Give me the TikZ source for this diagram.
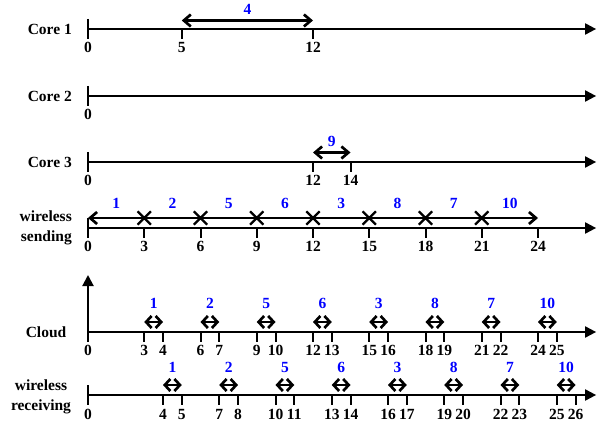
\documentclass[tikz,border=0pt]{standalone}
\usepackage{fontspec}
\setmainfont{Liberation Serif}
\usetikzlibrary{arrows.meta,shapes.misc}
\tikzset{
  axis/.style={line width=2pt,-{Triangle[length=11pt,width=11pt]}},
  tick/.style={line width=2pt},
  span/.style={line width=2.2pt,{Straight Barb[length=7pt,width=12pt,line width=2.7pt]}-{Straight Barb[length=7pt,width=12pt,line width=2.7pt]}},
  hop/.style={line width=2.4pt,{Straight Barb[length=5.5pt,width=12pt,line width=2.7pt]}-{Straight Barb[length=5.5pt,width=12pt,line width=2.7pt]}},
  num/.style={below=2.5pt,inner sep=0pt},
  job/.style={above=5pt,inner sep=0pt,text=blue},
  row/.style={align=right,anchor=east,inner sep=0pt},
  hit/.style={draw,cross out,line width=2.3pt,minimum size=11pt,inner sep=0pt},
}
\begin{document}
\begin{tikzpicture}[x=18.75pt,y=-1pt,font=\bfseries\fontsize{15.5}{20}\selectfont]
\useasboundingbox (-4.6933,0) rectangle (28,422);
% Core 1
\node[row] (core1) at (-0.8533,29) {Core 1};
\coordinate (c1o) at (0,29);
\coordinate (c1e) at (27.1,29);
\draw[axis] (c1o) -- (c1e);
\draw[tick] (0,19) -- (0,39) node[num] (c1n0) {0};
\foreach \t in {5,12}
  \draw[tick] (\t,29) -- (\t,39) node[num] (c1n\t) {\t};
\coordinate (c1a) at (5,20.5);
\coordinate (c1b) at (12,20.5);
\draw[span] (c1a) -- (c1b) node[midway,job] (c1j) {4};
% Core 2
\node[row] (core2) at (-0.8533,96) {Core 2};
\coordinate (c2o) at (0,96);
\coordinate (c2e) at (27.1,96);
\draw[axis] (c2o) -- (c2e);
\draw[tick] (0,86) -- (0,106) node[num] (c2n0) {0};
% Core 3
\node[row] (core3) at (-0.8533,162) {Core 3};
\coordinate (c3o) at (0,162);
\coordinate (c3e) at (27.1,162);
\draw[axis] (c3o) -- (c3e);
\draw[tick] (0,152) -- (0,172) node[num] (c3n0) {0};
\foreach \t in {12,14}
  \draw[tick] (\t,162) -- (\t,172) node[num] (c3n\t) {\t};
\coordinate (c3a) at (12,152.5);
\coordinate (c3b) at (14,152.5);
\draw[span] (c3a) -- (c3b) node[midway,job] (c3j) {9};
% wireless sending
\node[row] (send) at (-0.8533,228) {wireless\\sending};
\coordinate (so) at (0,228);
\coordinate (se) at (27.1,228);
\draw[axis] (so) -- (se);
\draw[tick] (0,218) -- (0,238) node[num] (sn0) {0};
\foreach \t in {3,6,...,24}
  \draw[tick] (\t,228) -- (\t,238) node[num] (sn\t) {\t};
\coordinate (sa) at (0,218);
\coordinate (sb) at (24,218);
\draw[span] (sa) -- (sb);
\foreach \t in {3,6,...,21}
  \node[hit] (x\t) at (\t,218) {};
\foreach \j [count=\i] in {1,2,5,6,3,8,7,10}
  \node[job,above=4pt] (sj\i) at ({3*\i-1.5},218) {\j};
% Cloud
\node[inner sep=0pt] (cloud) at (-2.24,332) {Cloud};
\coordinate (co) at (0,332);
\coordinate (cy) at (0,275);
\coordinate (ce) at (27.1,332);
\draw[axis] (co) -- (cy);
\draw[axis] (co) -- (ce);
\draw[tick] (0,332) -- (0,342) node[num] (cn0) {0};
\foreach \t/\j in {3/1,6/2,9/5,12/6,15/3,18/8,21/7,24/10}{
  \pgfmathtruncatemacro\u{\t+1}
  \draw[tick] (\t,332) -- (\t,342) node[num] (cn\t) {\t};
  \draw[tick] (\u,332) -- (\u,342) node[num] (cn\u) {\u};
  \draw[hop] (\t,322) -- (\u,322) node[midway,job,above=7pt] (cj\t) {\j};
}
% wireless receiving
\node[align=center,inner sep=0pt] (recv) at (-2.507,396.5) {wireless\\receiving};
\coordinate (ro) at (0,395);
\coordinate (re) at (27.1,395);
\draw[axis] (ro) -- (re);
\draw[tick] (0,385) -- (0,405) node[num,below=1pt] (rn0) {0};
\foreach \t/\j in {4/1,7/2,10/5,13/6,16/3,19/8,22/7,25/10}{
  \pgfmathtruncatemacro\u{\t+1}
  \draw[tick] (\t,395) -- (\t,405) node[num,below=1pt] (rn\t) {\t};
  \draw[tick] (\u,395) -- (\u,405) node[num,below=1pt] (rn\u) {\u};
  \draw[hop] (\t,385) -- (\u,385) node[midway,job,above=6pt] (rj\t) {\j};
}
\end{tikzpicture}
\end{document}
